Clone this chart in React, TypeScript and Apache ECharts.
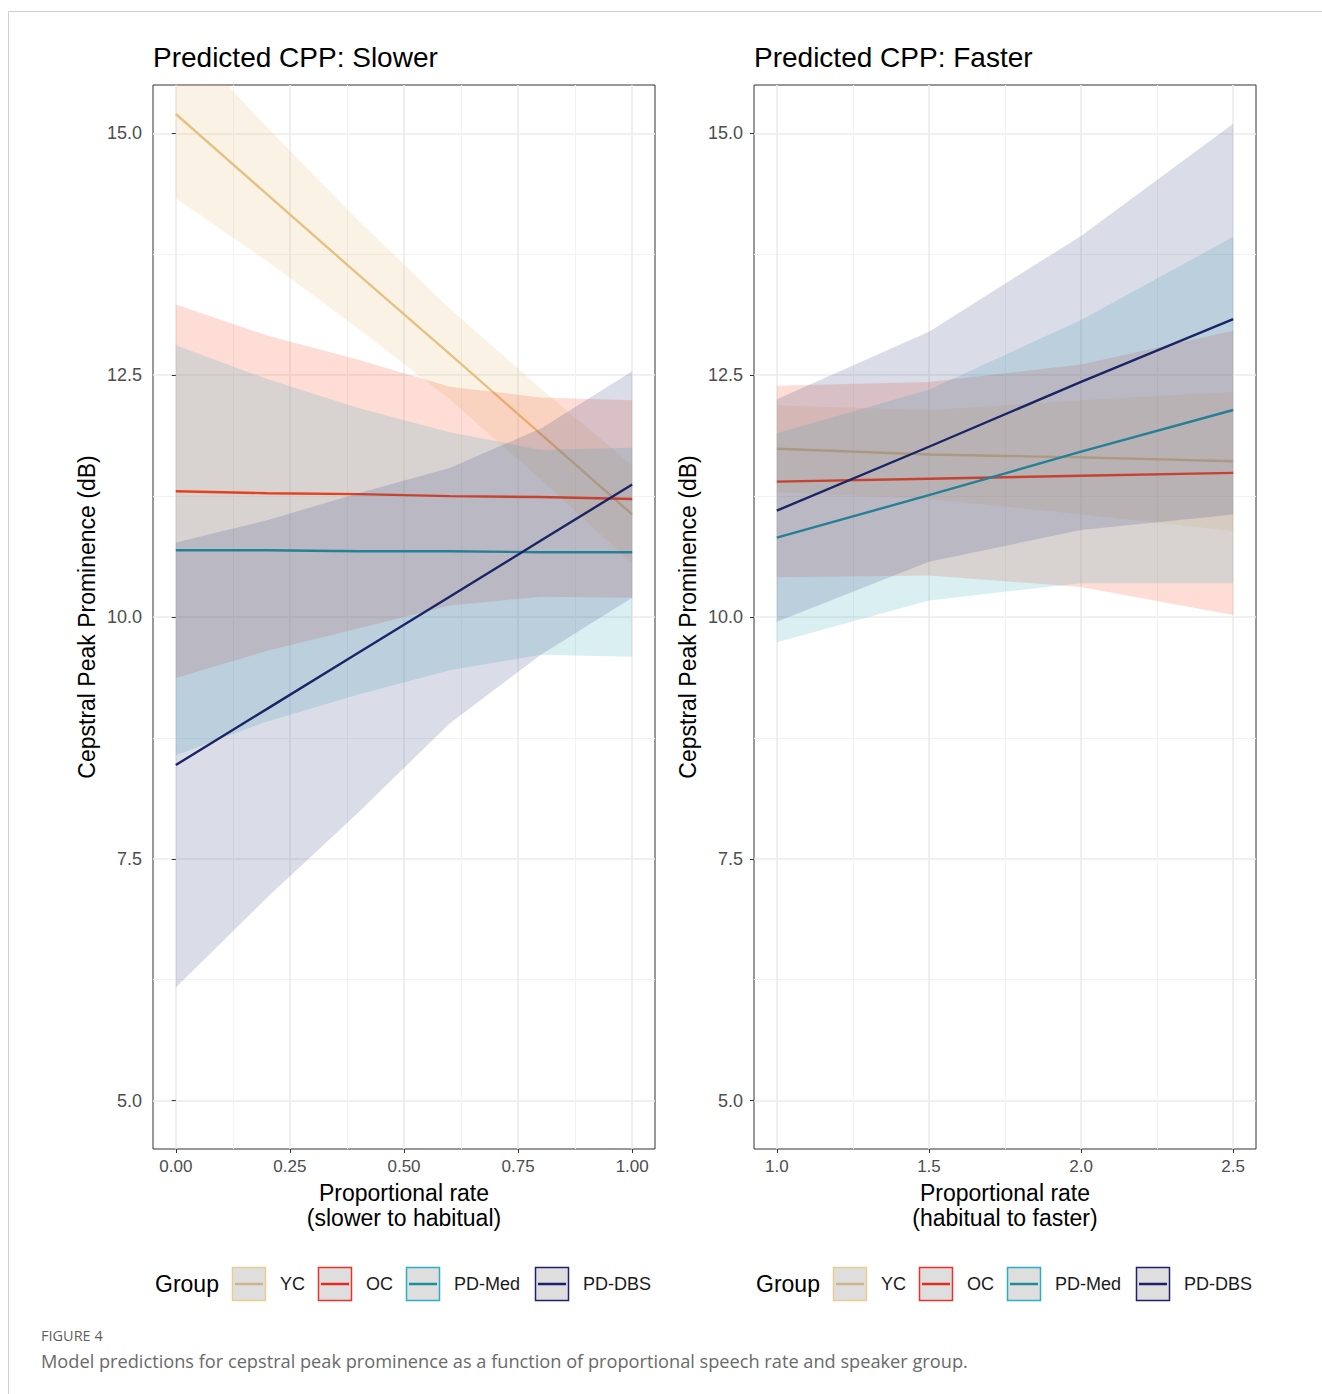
import React, { useEffect, useRef } from 'react';
import * as echarts from 'echarts';

// ---------- data ----------
const groups = ['YC', 'OC', 'PD-Med', 'PD-DBS'];
const panelTitles = ['Predicted CPP: Slower', 'Predicted CPP: Faster'];
const xNames = ['Proportional rate\n(slower to habitual)', 'Proportional rate\n(habitual to faster)'];
const yName = 'Cepstral Peak Prominence (dB)';
const legendTitle = 'Group';
const captionLabel = 'FIGURE 4';
const captionText = 'Model predictions for cepstral peak prominence as a function of proportional speech rate and speaker group.';

// Slower panel
const slowerX = [0, 0.2, 0.4, 0.6, 0.8, 1.0];
const slowerFitYC = [15.2, 14.37, 13.54, 12.72, 11.89, 11.06];
const slowerFitOC = [11.3, 11.28, 11.27, 11.25, 11.24, 11.22];
const slowerFitMed = [10.69, 10.69, 10.68, 10.68, 10.67, 10.67];
const slowerFitDBS = [8.47, 9.05, 9.63, 10.21, 10.79, 11.37];
const slowerLoYC = [14.33, 13.68, 12.98, 12.25, 11.42, 10.55];
const slowerHiYC = [16.07, 15.06, 14.1, 13.19, 12.36, 11.57];
const slowerLoOC = [9.37, 9.65, 9.88, 10.12, 10.21, 10.2];
const slowerHiOC = [13.23, 12.91, 12.66, 12.38, 12.27, 12.24];
const slowerLoMed = [8.57, 8.92, 9.2, 9.45, 9.61, 9.59];
const slowerHiMed = [12.81, 12.46, 12.16, 11.91, 11.73, 11.75];
const slowerLoDBS = [6.17, 7.1, 7.98, 8.9, 9.61, 10.2];
const slowerHiDBS = [10.77, 11.0, 11.28, 11.54, 11.95, 12.54];

// Faster panel
const fasterX = [1.0, 1.5, 2.0, 2.5];
const fasterFitYC = [11.74, 11.68, 11.65, 11.61];
const fasterFitOC = [11.4, 11.43, 11.46, 11.49];
const fasterFitMed = [10.82, 11.26, 11.71, 12.14];
const fasterFitDBS = [11.1, 11.76, 12.43, 13.08];
const fasterLoYC = [11.29, 11.22, 11.06, 10.89];
const fasterHiYC = [12.19, 12.14, 12.24, 12.33];
const fasterLoOC = [10.41, 10.43, 10.31, 10.02];
const fasterHiOC = [12.39, 12.43, 12.61, 12.96];
const fasterLoMed = [9.74, 10.17, 10.35, 10.35];
const fasterHiMed = [11.9, 12.35, 13.07, 13.93];
const fasterLoDBS = [9.95, 10.57, 10.9, 11.06];
const fasterHiDBS = [12.25, 12.95, 13.94, 15.1];

// ticks
const slowerXTicks = [0, 0.25, 0.5, 0.75, 1.0];
const slowerXMinor = [0.125, 0.375, 0.625, 0.875];
const fasterXTicks = [1.0, 1.5, 2.0, 2.5];
const fasterXMinor = [1.25, 1.75, 2.25];
const yTicks = [5, 7.5, 10, 12.5, 15];
const yMinor = [6.25, 8.75, 11.25, 13.75];

// ---------- styles ----------
const FONT = '"Liberation Sans", Arial, Helvetica, sans-serif';
const CAPTION_FONT = '"Open Sans", Lato, sans-serif';
const lineColors = ['#E4C282', '#E6401C', '#1F8C98', '#1B2566'];
const bandColors = ['#E6C37D', '#F5552F', '#46AFBE', '#46508C'];
const BAND_ALPHA = 0.2;
const ribbonZ = [2, 4, 5, 8];
const lineZ = [3, 6, 7, 9];
const legendBorderColors = ['#EACB90', '#F2302A', '#28B0C6', '#1E226C'];
const legendLineColors = ['#CDB48A', '#E02C22', '#1F8E9A', '#1B1F6A'];

function rgba(hex: string, a: number) {
  const h = hex.replace('#', '');
  const r = parseInt(h.slice(0, 2), 16);
  const g = parseInt(h.slice(2, 4), 16);
  const b = parseInt(h.slice(4, 6), 16);
  return `rgba(${r},${g},${b},${a})`;
}

const panels = [
  {
    xs: slowerX,
    fits: [slowerFitYC, slowerFitOC, slowerFitMed, slowerFitDBS],
    los: [slowerLoYC, slowerLoOC, slowerLoMed, slowerLoDBS],
    his: [slowerHiYC, slowerHiOC, slowerHiMed, slowerHiDBS],
    xMin: -0.05, xMax: 1.05, xTicks: slowerXTicks, xMinor: slowerXMinor, xDigits: 2,
    left: 153,
  },
  {
    xs: fasterX,
    fits: [fasterFitYC, fasterFitOC, fasterFitMed, fasterFitDBS],
    los: [fasterLoYC, fasterLoOC, fasterLoMed, fasterLoDBS],
    his: [fasterHiYC, fasterHiOC, fasterHiMed, fasterHiDBS],
    xMin: 0.925, xMax: 2.575, xTicks: fasterXTicks, xMinor: fasterXMinor, xDigits: 1,
    left: 754,
  },
];

const GRID_TOP = 85;
const GRID_H = 1064;
const GRID_W = 502;
const Y_MIN = 4.5;
const Y_MAX = 15.5;

function buildOption() {
  const grid: any[] = [];
  const xAxis: any[] = [];
  const yAxis: any[] = [];
  const series: any[] = [];
  const title: any[] = [];
  const graphic: any[] = [];

  panels.forEach((p, pi) => {
    grid.push({
      left: p.left, top: GRID_TOP, width: GRID_W, height: GRID_H,
      show: true, borderColor: '#333333', borderWidth: 1, backgroundColor: 'transparent',
    });
    xAxis.push({
      type: 'value', gridIndex: pi, min: p.xMin, max: p.xMax,
      axisLine: { show: false },
      axisTick: { show: true, customValues: p.xTicks, length: 4, lineStyle: { color: '#333333', width: 1 } },
      axisLabel: {
        customValues: p.xTicks, color: '#4D4D4D', fontSize: 17, fontFamily: FONT, margin: 9,
        formatter: (v: number) => v.toFixed(p.xDigits),
      },
      splitLine: { show: true, lineStyle: { color: '#EBEBEB', width: 1.6 } },
      name: xNames[pi], nameLocation: 'middle', nameGap: 31,
      nameTextStyle: { fontSize: 23, lineHeight: 25, color: '#000', fontFamily: FONT },
    });
    xAxis.push({
      type: 'value', gridIndex: pi, min: p.xMin, max: p.xMax,
      axisLine: { show: false },
      axisTick: { show: false, customValues: p.xMinor },
      axisLabel: { show: false, customValues: p.xMinor },
      splitLine: { show: true, lineStyle: { color: '#F2F2F2', width: 1 } },
    });
    yAxis.push({
      type: 'value', gridIndex: pi, min: Y_MIN, max: Y_MAX,
      axisLine: { show: false },
      axisTick: { show: true, customValues: yTicks, length: 4, lineStyle: { color: '#333333', width: 1 } },
      axisLabel: {
        customValues: yTicks, color: '#4D4D4D', fontSize: 18, fontFamily: FONT, margin: 11,
        formatter: (v: number) => v.toFixed(1),
      },
      splitLine: { show: true, lineStyle: { color: '#EBEBEB', width: 1.6 } },
      name: yName, nameLocation: 'middle', nameGap: 55,
      nameTextStyle: { fontSize: 23, color: '#000', fontFamily: FONT },
    });
    yAxis.push({
      type: 'value', gridIndex: pi, min: Y_MIN, max: Y_MAX,
      axisLine: { show: false },
      axisTick: { show: false, customValues: yMinor },
      axisLabel: { show: false, customValues: yMinor },
      splitLine: { show: true, lineStyle: { color: '#F2F2F2', width: 1 } },
    });

    const xi = pi * 2;
    groups.forEach((gname, g) => {
      const lo = p.los[g];
      const hi = p.his[g];
      const fit = p.fits[g];
      const xs = p.xs;
      const fill = rgba(bandColors[g], BAND_ALPHA);
      series.push({
        type: 'custom', name: gname + ' band', xAxisIndex: xi, yAxisIndex: xi,
        data: xs.map((x, i) => [x, lo[i], hi[i]]),
        encode: { x: 0, y: [1, 2] },
        clip: true, silent: true, z: ribbonZ[g],
        renderItem: (params: any, api: any) => {
          if (params.dataIndex !== 0) return null;
          const pts: number[][] = [];
          for (let i = 0; i < xs.length; i++) pts.push(api.coord([xs[i], lo[i]]));
          for (let i = xs.length - 1; i >= 0; i--) pts.push(api.coord([xs[i], hi[i]]));
          return { type: 'polygon', shape: { points: pts }, style: { fill, stroke: 'none' } };
        },
      });
      series.push({
        type: 'line', name: gname, xAxisIndex: xi, yAxisIndex: xi,
        data: xs.map((x, i) => [x, fit[i]]),
        symbol: 'none', silent: true, z: lineZ[g],
        lineStyle: { color: lineColors[g], width: 2.4 },
        itemStyle: { color: lineColors[g] },
      });
    });

    title.push({
      text: panelTitles[pi], left: p.left - 5, top: 38,
      textStyle: { fontSize: 28, fontWeight: 'normal', color: '#000', fontFamily: FONT },
    });

    // legend
    const off = p.left - 153;
    const cy = 1284;
    const boxX = [232, 318, 406, 535];
    const labelX = [280, 366, 454, 583];
    graphic.push({
      type: 'text', x: 155 + off, y: cy,
      style: { text: legendTitle, font: '23px ' + FONT, fill: '#000', verticalAlign: 'middle', align: 'left' },
    });
    groups.forEach((gname, g) => {
      graphic.push({
        type: 'rect', shape: { x: boxX[g] + off + 0.5, y: cy - 17 + 0.5, width: 33, height: 33 },
        style: { fill: '#DEDEDE', stroke: legendBorderColors[g], lineWidth: 1.5 },
      });
      graphic.push({
        type: 'line', shape: { x1: boxX[g] + off + 3, y1: cy, x2: boxX[g] + off + 31, y2: cy },
        style: { stroke: legendLineColors[g], lineWidth: 2.5 },
      });
      graphic.push({
        type: 'text', x: labelX[g] + off, y: cy,
        style: { text: gname, font: '18px ' + FONT, fill: '#1A1A1A', verticalAlign: 'middle', align: 'left' },
      });
    });
  });

  graphic.push({
    type: 'rect', shape: { x: 8.5, y: 11.5, width: 1400, height: 1500 }, silent: true,
    style: { fill: 'none', stroke: '#CFCFCF', lineWidth: 1 },
  });
  graphic.push({
    type: 'text', x: 41, y: 1335,
    style: { text: captionLabel, font: '14.5px ' + CAPTION_FONT, fill: '#5F5F5F', verticalAlign: 'middle' },
  });
  graphic.push({
    type: 'text', x: 41, y: 1361,
    style: { text: captionText, font: '18.2px ' + CAPTION_FONT, fill: '#6A6A6A', verticalAlign: 'middle' },
  });

  return {
    animation: false,
    backgroundColor: '#FFFFFF',
    textStyle: { fontFamily: FONT },
    title, grid, xAxis, yAxis, series, graphic,
  };
}

export default function App() {
  const ref = useRef<HTMLDivElement>(null);
  useEffect(() => {
    if (!ref.current) return;
    const chart = echarts.init(ref.current, undefined, { renderer: 'svg' });
    chart.setOption(buildOption() as any);
    return () => chart.dispose();
  }, []);
  return (
    <div
      ref={ref}
      style={{ position: 'absolute', left: 0, top: 0, width: 1322, height: 1394 }}
    />
  );
}
